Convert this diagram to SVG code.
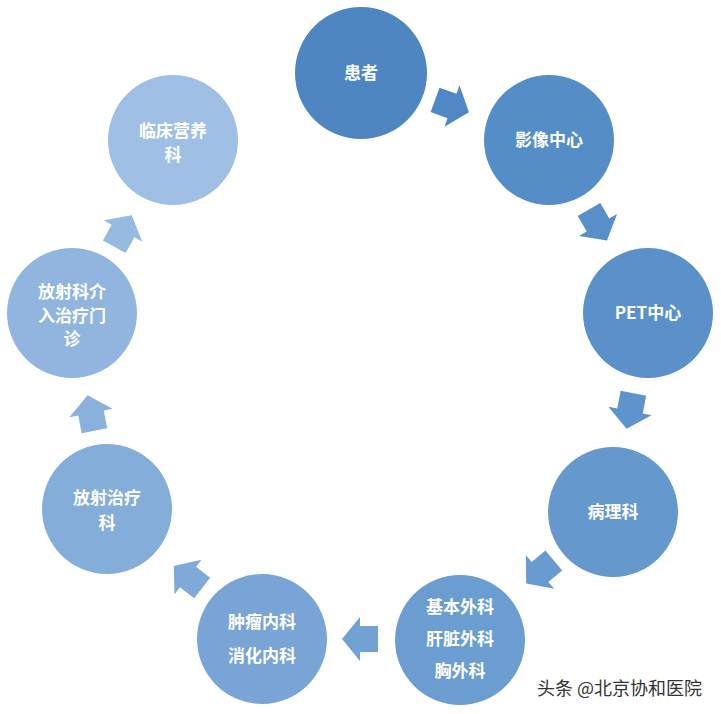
<svg xmlns="http://www.w3.org/2000/svg" width="721" height="714" viewBox="0 0 721 714">
<defs>
<style>
.t{font-family:"Noto Sans CJK SC","Microsoft YaHei",sans-serif;font-weight:bold;font-size:17px;fill:#ffffff;text-anchor:middle}
.wm{font-family:"Noto Sans CJK SC",sans-serif;font-size:18px;fill:#333333}
</style>
<path id="arr" d="M-18,-13 L0,-13 L0,-22 L18,0 L0,22 L0,13 L-18,13 Z"/>
</defs>
<rect width="721" height="714" fill="#ffffff"/>
<g id="connectors">
<use href="#arr" fill="#4f88c4" transform="translate(452,106) rotate(20)"/>
<use href="#arr" fill="#578fc9" transform="translate(598,225) rotate(60)"/>
<use href="#arr" fill="#5e94cc" transform="translate(630,411) rotate(101)"/>
<use href="#arr" fill="#689bd0" transform="translate(540,572) rotate(140)"/>
<use href="#arr" fill="#72a1d3" transform="translate(360,639) rotate(180)"/>
<use href="#arr" fill="#7ea9d8" transform="translate(188,577) rotate(218)"/>
<use href="#arr" fill="#8ab1dc" transform="translate(91,413) rotate(259)"/>
<use href="#arr" fill="#97badf" transform="translate(123,231) rotate(299)"/>
</g>
<g id="n1"><circle cx="361" cy="73" r="66" fill="#4e86c2"/><text class="t" x="361" y="79">患者</text></g>
<g id="n2"><circle cx="549" cy="140" r="65" fill="#558dc7"/><text class="t" x="549" y="146">影像中心</text></g>
<g id="n3"><circle cx="648" cy="313" r="65" fill="#5b91c9"/><text class="t" x="648" y="319">PET中心</text></g>
<g id="n4"><circle cx="613" cy="512" r="65" fill="#6598cd"/><text class="t" x="613" y="518">病理科</text></g>
<g id="n5"><circle cx="460" cy="640" r="65" fill="#6c9dd0"/><text class="t" x="460" y="613">基本外科</text><text class="t" x="460" y="645">肝脏外科</text><text class="t" x="460" y="677">胸外科</text></g>
<g id="n6"><circle cx="262" cy="639" r="65" fill="#78a5d5"/><text class="t" x="262" y="628">肿瘤内科</text><text class="t" x="262" y="662">消化内科</text></g>
<g id="n7"><circle cx="107" cy="509" r="65" fill="#84add9"/><text class="t" x="107" y="504">放射治疗</text><text class="t" x="107" y="529">科</text></g>
<g id="n8"><circle cx="72" cy="313" r="65" fill="#91b5de"/><text class="t" x="72" y="298">放射科介</text><text class="t" x="72" y="322">入治疗门</text><text class="t" x="72" y="345">诊</text></g>
<g id="n9"><circle cx="173" cy="140" r="65" fill="#a0bfe4"/><text class="t" x="173" y="137">临床营养</text><text class="t" x="173" y="161">科</text></g>
<text class="wm" x="537" y="695">头条 @北京协和医院</text>
</svg>
